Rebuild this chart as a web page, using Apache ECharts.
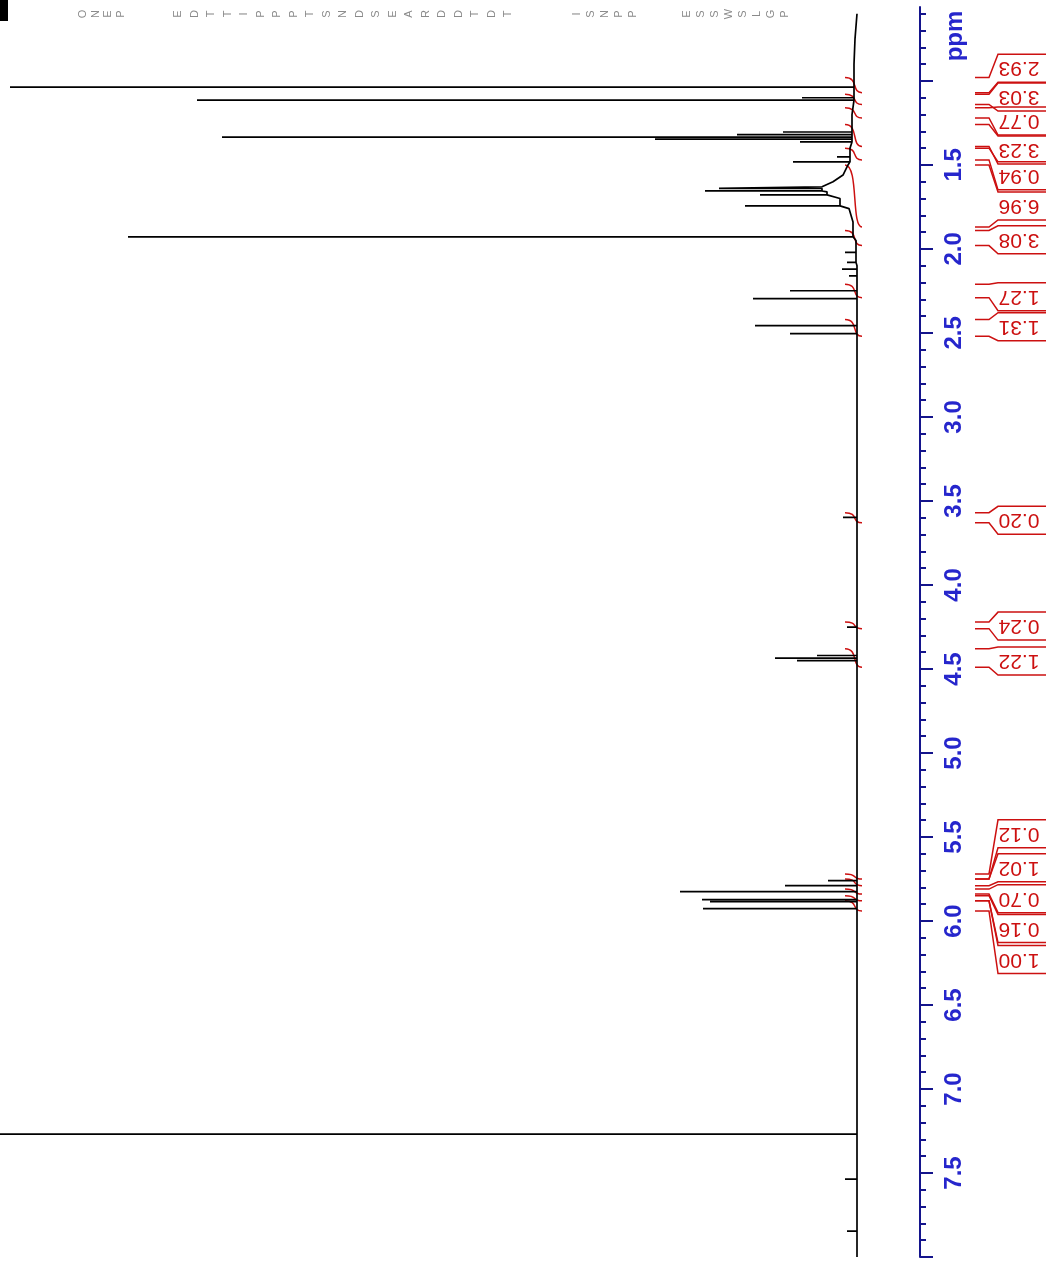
<!DOCTYPE html>
<html>
<head>
<meta charset="utf-8">
<title>1H NMR</title>
<script src="https://cdn.jsdelivr.net/npm/echarts@6/dist/echarts.min.js"></script>
<style>
  html, body { margin: 0; padding: 0; background: #fff; }
  #main { width: 1048px; height: 1264px; }
</style>
</head>
<body>
<div id="main"></div>
<script type="text/javascript">
// baseline of the spectrum (broad hump around 1.6 ppm): [ppm, intensity]
var baseline = [
  [0.60, 0], [0.75, 2], [0.90, 3], [1.00, 3], [1.20, 5], [1.40, 7], [1.50, 9],
  [1.56, 14], [1.60, 24], [1.63, 35], [1.66, 30], [1.70, 17], [1.76, 8], [1.84, 4],
  [1.95, 1], [2.10, 0], [8.00, 0]
];
// peak lines: [ppm, intensity]
var peaks = [
  [1.037, 847], [1.100, 55], [1.114, 660], [1.304, 74], [1.320, 120], [1.334, 635],
  [1.346, 202], [1.363, 57], [1.452, 20], [1.482, 64], [1.640, 138], [1.655, 152],
  [1.678, 97], [1.744, 112], [1.928, 729], [2.02, 12], [2.08, 10], [2.12, 15],
  [2.16, 8], [2.249, 67], [2.296, 104], [2.457, 102], [2.504, 67], [3.598, 14],
  [4.251, 10], [4.420, 40], [4.435, 82], [4.450, 60], [5.760, 29], [5.790, 72],
  [5.825, 177], [5.873, 155], [5.885, 147], [5.927, 154], [7.269, 1000],
  [7.537, 12], [7.846, 10]
];
// integrals: value, region start, region end, label centre (ppm)
var intValues = [2.93, 3.03, 0.77, 3.23, 0.94, 6.96, 3.08, 1.27, 1.31, 0.20, 0.24, 1.22, 0.12, 1.02, 0.70, 0.16, 1.00];
var intFrom   = [0.98, 1.08, 1.16, 1.26, 1.40, 1.50, 1.89, 2.21, 2.42, 3.57, 4.22, 4.38, 5.72, 5.75, 5.81, 5.85, 5.88];
var intTo     = [1.07, 1.14, 1.22, 1.39, 1.47, 1.87, 1.98, 2.29, 2.52, 3.63, 4.26, 4.49, 5.75, 5.79, 5.84, 5.88, 5.94];
var intLabel  = [0.924, 1.096, 1.239, 1.411, 1.565, 1.744, 1.946, 2.284, 2.463, 3.615, 4.245, 4.453, 5.481, 5.683, 5.867, 6.045, 6.230];
// axis ticks
var majorTicks = [1.0, 1.5, 2.0, 2.5, 3.0, 3.5, 4.0, 4.5, 5.0, 5.5, 6.0, 6.5, 7.0, 7.5, 8.0];
var tickLabels = [1.5, 2.0, 2.5, 3.0, 3.5, 4.0, 4.5, 5.0, 5.5, 6.0, 6.5, 7.0, 7.5];
// acquisition parameter header (letters only, as in the scan)
var headerGroups = [
  { s: 'ONEP', x: 83, step: 12.5 },
  { s: 'EDTTIPPPTSNDSEARDDTDT', x: 178, step: 16.5 },
  { s: 'ISNPP', x: 577, step: 14 },
  { s: 'ESSWSLGP', x: 687, step: 14 }
];

var minorTicks = [];
for (var t = 6; t <= 80; t++) {
  if (t % 5 !== 0) minorTicks.push(t / 10);
}

// build the trace: baseline points plus a spike for each peak
var events = [];
baseline.forEach(function (b) { events.push({ ppm: b[0], v: b[1], peak: false }); });
peaks.forEach(function (p) { events.push({ ppm: p[0], v: p[1], peak: true }); });
events.sort(function (a, b) { return a.ppm - b.ppm; });
var trace = [];
var lastBase = 0;
events.forEach(function (e) {
  if (e.peak) {
    trace.push([lastBase, e.ppm], [e.v, e.ppm], [lastBase, e.ppm]);
  } else {
    trace.push([e.v, e.ppm]);
    lastBase = e.v;
  }
});

var integrals = intValues.map(function (v, i) {
  return [0, intFrom[i], intTo[i], intLabel[i], v];
});

var graphics = [{
  type: 'rect', left: 0, top: 0, shape: { width: 8, height: 21 }, style: { fill: '#000' }
}, {
  type: 'text', x: 955, y: 36, rotation: Math.PI / 2,
  style: { text: 'ppm', fill: '#2626cc', font: 'bold 24px "Liberation Sans", Arial', textAlign: 'center', textVerticalAlign: 'middle' }
}];
headerGroups.forEach(function (g) {
  for (var i = 0; i < g.s.length; i++) {
    graphics.push({
      type: 'text', x: g.x + i * g.step, y: 14, rotation: Math.PI / 2,
      style: { text: g.s[i], fill: '#8a8a8a', font: '11px "Liberation Sans", Arial', textAlign: 'center', textVerticalAlign: 'middle' }
    });
  }
});

var chart = echarts.init(document.getElementById('main'));
var option = {
  animation: false,
  backgroundColor: '#fff',
  grid: { left: 0, right: 178, top: 7, bottom: 7 },
  xAxis: { type: 'value', inverse: true, min: -13, max: 857, show: false },
  yAxis: [{
    type: 'value', inverse: true, min: 0.56, max: 8.0, position: 'right', offset: 50,
    splitLine: { show: false },
    axisLine: { show: true, onZero: false, lineStyle: { color: '#14148c', width: 2 } },
    axisTick: { show: true, inside: false, length: 13, customValues: majorTicks, lineStyle: { color: '#14148c', width: 2 } },
    axisLabel: {
      customValues: tickLabels, rotate: 90, margin: 22,
      color: '#2626cc', fontSize: 24, fontWeight: 'bold', fontFamily: '"Liberation Sans", Arial',
      formatter: function (v) { return v.toFixed(1); }
    }
  }, {
    type: 'value', inverse: true, min: 0.56, max: 8.0, position: 'right', offset: 50,
    splitLine: { show: false },
    axisLine: { show: false, onZero: false },
    axisTick: { show: true, inside: false, length: 6, customValues: minorTicks, lineStyle: { color: '#14148c', width: 2 } },
    axisLabel: { show: false }
  }],
  graphic: graphics,
  series: [{
    type: 'line',
    data: trace,
    showSymbol: false,
    symbol: 'none',
    clip: true,
    lineStyle: { color: '#000', width: 1.7 }
  }, {
    type: 'custom',
    data: integrals,
    encode: { x: 0, y: 1 },
    renderItem: function (params, api) {
      var ya = api.coord([0, api.value(1)])[1];
      var yb = api.coord([0, api.value(2)])[1];
      var yc = api.coord([0, api.value(3)])[1];
      var x0 = api.coord([0, 1])[0];
      var top = yc - 14, bot = yc + 14;
      var red = '#cc1010';
      var ls = { stroke: red, lineWidth: 1.5, fill: null };
      return {
        type: 'group',
        children: [
          { type: 'polyline', shape: { points: [[975, ya], [989, ya], [998, top], [1046, top]] }, style: ls },
          { type: 'polyline', shape: { points: [[975, yb], [989, yb], [998, bot], [1046, bot]] }, style: ls },
          { type: 'bezierCurve', shape: { x1: x0 - 12, y1: ya, cpx1: x0 + 2, cpy1: ya, cpx2: x0 - 6, cpy2: yb, x2: x0 + 5, y2: yb }, style: ls },
          {
            type: 'text', x: 1019, y: yc, rotation: Math.PI,
            style: { text: api.value(4).toFixed(2), fill: red, font: '21px "Liberation Sans", Arial', textAlign: 'center', textVerticalAlign: 'middle' }
          }
        ]
      };
    }
  }]
};
chart.setOption(option);
</script>
</body>
</html>
